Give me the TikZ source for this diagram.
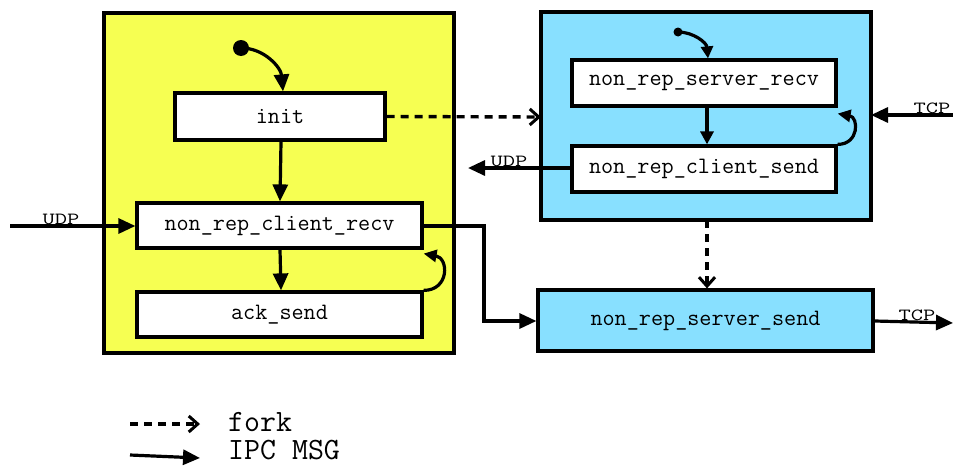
\documentclass[tikz,border=0pt]{standalone}
\usepackage{fontspec}
\usetikzlibrary{arrows.meta}
\definecolor{procyellow}{RGB}{246,255,82}
\definecolor{proccyan}{RGB}{136,224,255}
\newcommand{\wirelabel}[1]{\scalebox{1.4}[1]{#1}}
\tikzset{
  group/.style={draw=black, line width=3.6pt},
  state/.style={draw=black, fill=white, line width=3.2pt, font=\ttfamily\fontsize{23.5}{23.5}\selectfont, inner sep=0pt},
  msg/.style={line width=3.2pt, -{Triangle[length=17pt,width=15pt]}},
  forkarrow/.style={line width=3.4pt, dash pattern=on 8pt off 6pt, -{Straight Barb[length=9pt,width=16pt,line width=3pt]}},
  wire/.style={font=\ttfamily\fontsize{17}{17}\selectfont, inner sep=0pt, anchor=base},
  legend/.style={font=\ttfamily\fontsize{31}{31}\selectfont, inner sep=0pt, anchor=base west}
}
\begin{document}
\begin{tikzpicture}[x=1pt,y=-1pt]
\useasboundingbox (0,0) rectangle (953,466);

% process groups
\draw[group, fill=procyellow] (104,13) rectangle (454,353);
\draw[group, fill=proccyan] (541,12) rectangle (871,220);
\coordinate (cyanbot) at (707,220);
\coordinate (cyanleft) at (541,117);
\coordinate (cyanright) at (871,115);

% states
\node[state, minimum width=210pt, minimum height=47pt] (init) at (280,116.5) {init};
\node[state, minimum width=285pt, minimum height=45pt] (ncr) at (279.5,225.5) {non\_rep\_client\_recv};
\node[state, minimum width=285pt, minimum height=45pt] (ack) at (279.5,314.5) {ack\_send};
\node[state, minimum width=264pt, minimum height=46pt] (nsr) at (704,83) {non\_rep\_server\_recv};
\node[state, minimum width=264pt, minimum height=46pt] (ncs) at (704,169) {non\_rep\_client\_send};
\node[state, fill=proccyan, minimum width=335pt, minimum height=61pt] (nss) at (705.5,320.5) {non\_rep\_server\_send};

% initial markers
\fill (241,48) circle (8pt) coordinate (start1);
\fill (678,32) circle (4.5pt) coordinate (start2);
\draw[msg] (start1) to[out=0,in=95] (init.north -| 283,0);
\draw[msg, -{Triangle[length=12pt,width=12pt]}] (start2) to[out=0,in=95] (nsr.north -| 708,0);

% transitions inside the client process
\draw[msg] (init.south -| 281,0) -- (ncr.north -| 280,0);
\draw[msg] (ncr.south -| 280,0) -- (ack.north -| 281,0);
\draw[msg, -{Triangle[length=13pt,width=12pt]}] (ack.north east) to[out=0,in=-10,looseness=1.8] ([yshift=-4pt]ncr.south east);

% transitions inside the server process
\draw[msg, -{Triangle[length=13pt,width=13pt]}] (nsr.south -| 707,0) -- (ncs.north -| 707,0);
\draw[msg, -{Triangle[length=13pt,width=12pt]}] (ncs.north east) to[out=0,in=-10,looseness=1.8] ([yshift=-6pt]nsr.south east);

% forks
\draw[forkarrow] (init.east) -- (cyanleft);
\draw[forkarrow] (cyanbot) -- (nss.north -| cyanbot);

% external and internal messages
\coordinate (udpin) at (10,226);
\coordinate (udpout) at (468,168);
\coordinate (tcpin) at (953,115);
\coordinate (tcpout) at (953,323);
\draw[msg] (udpin) -- (ncr.west |- udpin);
\node[wire] at (61,224.5) {\wirelabel{UDP}};
\draw[msg] (ncs.west |- udpout) -- (udpout);
\node[wire] at (509,166.5) {\wirelabel{UDP}};
\draw[msg] (tcpin) -- (cyanright);
\node[wire] at (932,113.5) {\wirelabel{TCP}};
\draw[msg] (ncr.east |- 0,226) -- (484,226) -- (484,321) -- (nss.west |- 0,321);
\draw[msg] (nss.east |- 0,321) -- (tcpout);
\node[wire] at (917,320) {\wirelabel{TCP}};

% legend
\coordinate (lf1) at (130,424);
\coordinate (lf2) at (200,424);
\coordinate (lm1) at (130,455);
\coordinate (lm2) at (200,458);
\draw[forkarrow] (lf1) -- (lf2);
\node[legend] at (228,431) {fork};
\draw[msg] (lm1) -- (lm2);
\node[legend] at (228,459) {IPC MSG};
\end{tikzpicture}
\end{document}
